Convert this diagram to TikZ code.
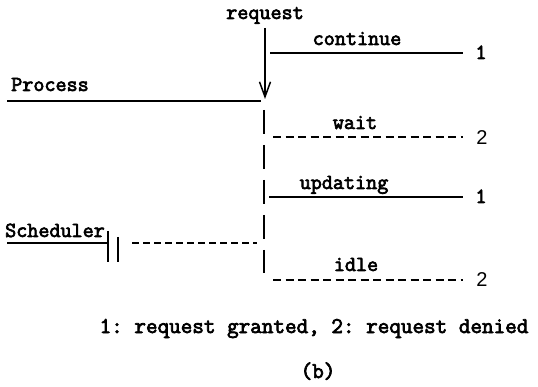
\documentclass[tikz,border=0pt]{standalone}
\usepackage{fontspec}
\setmonofont[AutoFakeBold=3.2]{Latin Modern Mono}
\newfontfamily\numsans{Liberation Sans}
\usetikzlibrary{arrows.meta}
\begin{document}
\begin{tikzpicture}[x=1pt,y=-1pt,
  lbl/.style={font=\fontsize{21.5}{23}\selectfont\ttfamily\bfseries, inner sep=0pt, anchor=base},
  captext/.style={font=\fontsize{22.5}{24}\selectfont\ttfamily\bfseries, inner sep=0pt, anchor=base},
  onenum/.style={font=\fontsize{21.5}{23}\selectfont\ttfamily\bfseries, inner sep=0pt, anchor=base},
  twonum/.style={font=\fontsize{20}{22}\selectfont\numsans, inner sep=0pt, anchor=base},
  solidln/.style={line width=1.5pt},
  dashln/.style={line width=1.5pt, dash pattern=on 8pt off 4.5pt},
  vdashln/.style={line width=1.5pt, dash pattern=on 24pt off 11pt},
  barb/.style={-{Straight Barb[length=15pt,width=11pt,line width=1.5pt]}}]
\useasboundingbox (0,0) rectangle (538,387);
% labels
\node[lbl] (request) at (265,19) {request};
\node[lbl] (continue) at (357,45) {continue};
\node[lbl] (process) at (50,91) {Process};
\node[lbl] (wait) at (355,129) {wait};
\node[lbl] (updating) at (344,189) {updating};
\node[lbl] (scheduler) at (55,237) {Scheduler};
\node[lbl] (idle) at (356,271) {idle};
\node[onenum] (n1a) at (481,59) {1};
\node[twonum] (n2a) at (482,145) {2};
\node[onenum] (n1b) at (481,203) {1};
\node[twonum] (n2b) at (482,287) {2};
\node[captext] (caption) at (314,333) {1: request granted, 2: request denied};
\node[captext] (sub) at (318,378) {(b)};
% coordinates
\coordinate (vtop) at (265,28);
\coordinate (vtip) at (265,99);
\coordinate (pstart) at (7,101);
\coordinate (pend) at (261,101);
\coordinate (vdtop) at (264,110);
\coordinate (vdbot) at (264,273);
\coordinate (cs) at (270,53);  \coordinate (ce) at (463,53);
\coordinate (ws) at (273,137); \coordinate (we) at (463,137);
\coordinate (us) at (269,197); \coordinate (ue) at (463,197);
\coordinate (is) at (273,280); \coordinate (ie) at (463,280);
\coordinate (ss) at (7,243);   \coordinate (se) at (108,243);
\coordinate (b1t) at (108,231); \coordinate (b1b) at (108,262);
\coordinate (b2t) at (118,237); \coordinate (b2b) at (118,262);
\coordinate (sds) at (132,243); \coordinate (sde) at (257,243);
% drawing
\draw[solidln,barb] (vtop) -- (vtip);
\draw[solidln] (pstart) -- (pend);
\draw[vdashln] (vdtop) -- (vdbot);
\draw[solidln] (cs) -- (ce);
\draw[dashln] (ws) -- (we);
\draw[solidln] (us) -- (ue);
\draw[dashln] (is) -- (ie);
\draw[solidln] (ss) -- (se);
\draw[solidln] (b1t) -- (b1b);
\draw[solidln] (b2t) -- (b2b);
\draw[dashln, dash pattern=on 7pt off 4pt] (sds) -- (sde);
\end{tikzpicture}
\end{document}
